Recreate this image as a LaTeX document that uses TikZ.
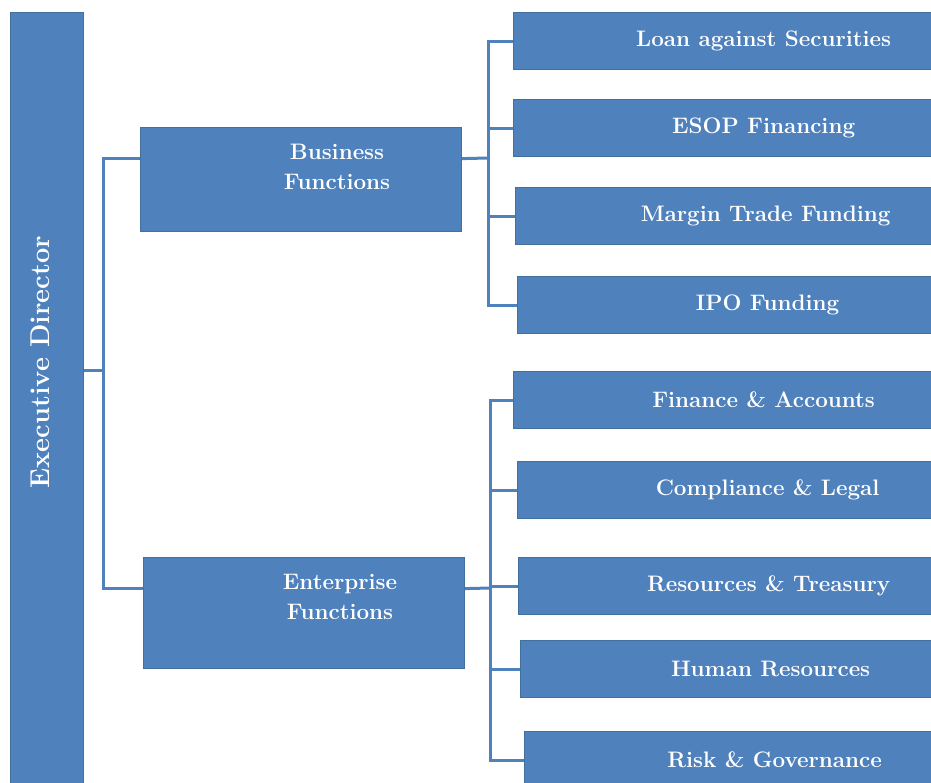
\documentclass[tikz,border=0pt]{standalone}
\definecolor{boxblue}{HTML}{4F81BD}
\definecolor{boxedge}{HTML}{41719C}
\begin{document}
\begin{tikzpicture}[x=0.5pt,y=-0.5pt,
    box/.style={draw=boxedge, line width=0.6pt, fill=boxblue, rectangle, inner sep=0pt},
    boxtext/.style={text=white, font=\bfseries\fontsize{11.2}{15}\selectfont, align=center},
    link/.style={draw=boxblue, line width=1.5pt}]
        \useasboundingbox (0,0) rectangle (931,782);
        \clip (0,0) rectangle (931,782);

        \node[box, anchor=north west, minimum width=36.5pt, minimum height=400pt] (ed) at (10,12) {};
        \node[boxtext, rotate=90, font=\bfseries\fontsize{13.6}{16}\selectfont] (edt) at (40,362) {Executive Director};

        \node[box, anchor=north west, minimum width=160.5pt, minimum height=52pt] (bf) at (140,127) {};
        \node[boxtext] (bft) at (337,167) {Business\\Functions};
        \node[box, anchor=north west, minimum width=160.5pt, minimum height=55.5pt] (ef) at (143,557) {};
        \node[boxtext] (eft) at (340,597) {Enterprise\\Functions};

        \foreach \name/\x/\y/\txt in {la/513/41/{Loan against Securities}, esop/513/128/{ESOP Financing},
                mtf/515/216/{Margin Trade Funding}, ipo/517/305/{IPO Funding},
                fa/513/400/{Finance \& Accounts}, cl/517/490/{Compliance \& Legal},
                rt/518/586/{Resources \& Treasury}, hr/520/669/{Human Resources},
                rg/524/760/{Risk \& Governance}}
            \node[box, boxtext, anchor=west, minimum width=250pt, minimum height=28.5pt] (\name) at (\x,\y) {\txt};

        \coordinate (edbus) at (103,370);
        \draw[link] (ed.east |- edbus) -- (edbus);
        \draw[link] ([yshift=10.5pt]bf.west) -| (edbus) |- ([yshift=12.25pt]ef.west);

        \coordinate (bbus) at (488,158);
        \draw[link] ([yshift=10.5pt]bf.east) -- (bbus);
        \foreach \c in {la,esop,mtf,ipo}
            \draw[link] (bbus) |- (\c.west);

        \coordinate (ebus) at (490,588);
        \draw[link] ([yshift=12.25pt]ef.east) -- (ebus);
        \foreach \c in {fa,cl,rt,hr,rg}
            \draw[link] (ebus) |- (\c.west);
    \end{tikzpicture}
\end{document}
